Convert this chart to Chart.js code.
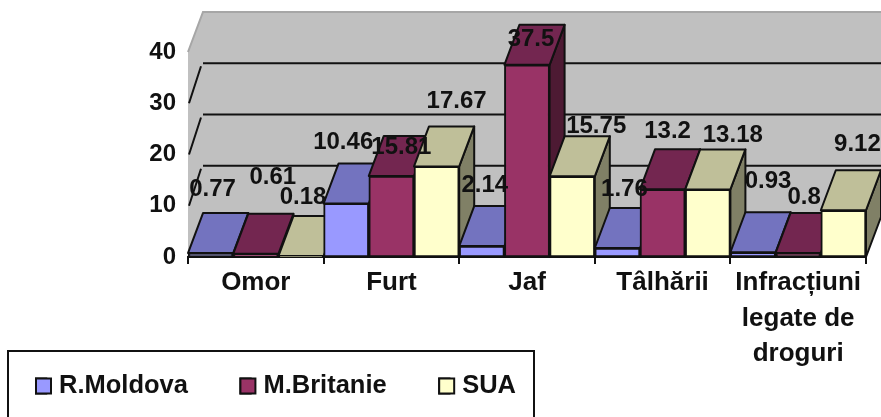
<!DOCTYPE html>
<html>
<head>
<meta charset="utf-8">
<title>Infractiuni</title>
<script src="https://cdn.jsdelivr.net/npm/chart.js@4"></script>
<style>
    body { margin: 0; background: #fff; }
    canvas { display: block; }
</style>
</head>
<body>
<canvas id="chart" width="881" height="417"></canvas>
<script>
const categories = ['Omor', 'Furt', 'Jaf', 'Tâlhării', ['Infracțiuni', 'legate de', 'droguri']];
const moldova  = [0.77, 10.46, 2.14, 1.76, 0.93];
const britanie = [0.61, 15.81, 37.5, 13.2, 0.8];
const sua      = [0.18, 17.67, 15.75, 13.18, 9.12];

// the labels were moved by hand in the original, so each has its own offset from the bar top
const labelShift = [
    [[2, -64], [-3, -61], [3, -61], [7, -59], [15, -71]],
    [[17, -76], [10, -29], [4, -25], [5, -58], [6, -56]],
    [[2, -59], [20, -65], [24, -50], [25, -54], [14, -66]],
];

const DEPTH_X = 15;
const DEPTH_Y = -40;
const TOP_COLORS  = ['#7373bf', '#732650', '#bfbf99'];
const SIDE_COLORS = ['#4d4d80', '#4d1a33', '#808066'];
const LEGEND_PAD = 52.5;
const LEGEND_Y = 386;

function poly(ctx, pts, fill, stroke, width) {
    ctx.beginPath();
    pts.forEach((p, i) => i ? ctx.lineTo(p[0], p[1]) : ctx.moveTo(p[0], p[1]));
    ctx.closePath();
    ctx.fillStyle = fill;
    ctx.fill();
    if (stroke) {
        ctx.strokeStyle = stroke;
        ctx.lineWidth = width;
        ctx.lineJoin = 'round';
        ctx.stroke();
    }
}

const walls = {
    id: 'walls',
    afterLayout(chart) {
        // legend row is placed by hand; x labels must not be cut at the scale bottom
        chart.legend.left = 36 - LEGEND_PAD;
        chart.legend.top = LEGEND_Y - LEGEND_PAD - 12.75;
        chart.scales.x.bottom = chart.height;
    },
    beforeDraw(chart) {
        const ctx = chart.ctx;
        const a = chart.chartArea;
        const yTop = a.top, yBase = a.bottom;
        const backRight = chart.width;
        ctx.save();
        // left wall, back wall and floor
        poly(ctx, [[a.left, yTop], [a.left + DEPTH_X, yTop + DEPTH_Y], [backRight, yTop + DEPTH_Y],
                   [backRight, yBase + DEPTH_Y], [a.right, yBase], [a.left, yBase]], '#c0c0c0');
        ctx.strokeStyle = '#a6a6a6';
        ctx.lineWidth = 2;
        ctx.beginPath();
        ctx.moveTo(a.left, yTop);
        ctx.lineTo(a.left + DEPTH_X, yTop + DEPTH_Y);
        ctx.lineTo(backRight, yTop + DEPTH_Y);
        ctx.stroke();
        // gridlines, sitting on the back wall
        ctx.strokeStyle = '#111';
        ctx.lineWidth = 2;
        chart.scales.y.ticks.forEach(t => {
            if (t.value === 0 || t.value === 40) return;
            const y = chart.scales.y.getPixelForValue(t.value);
            ctx.beginPath();
            ctx.moveTo(a.left + 1, y);
            ctx.lineTo(a.left + DEPTH_X - 2, y + DEPTH_Y + 3);
            ctx.moveTo(a.left + DEPTH_X, y + DEPTH_Y);
            ctx.lineTo(backRight, y + DEPTH_Y);
            ctx.stroke();
        });
        ctx.restore();
    },
    beforeDatasetDraw() {
        return false;
    },
    afterDatasetsDraw(chart) {
        const ctx = chart.ctx;
        ctx.save();
        // painter's order: category by category, left to right
        categories.forEach((c, i) => {
            chart.data.datasets.forEach((ds, d) => {
                const bar = chart.getDatasetMeta(d).data[i];
                const l = bar.x - bar.width / 2, r = bar.x + bar.width / 2;
                const top = bar.y, base = bar.base;
                poly(ctx, [[r, top], [r + DEPTH_X, top + DEPTH_Y], [r + DEPTH_X, base + DEPTH_Y], [r, base]],
                    SIDE_COLORS[d], '#111', 2);
                poly(ctx, [[l, top], [l + DEPTH_X, top + DEPTH_Y], [r + DEPTH_X, top + DEPTH_Y], [r, top]],
                    TOP_COLORS[d], '#111', 2);
                bar.draw(ctx);
            });
        });
        // value labels on top of everything
        ctx.font = 'bold 24px "Liberation Sans", Arial, sans-serif';
        ctx.fillStyle = '#111';
        ctx.textAlign = 'center';
        ctx.textBaseline = 'middle';
        chart.data.datasets.forEach((ds, d) => {
            chart.getDatasetMeta(d).data.forEach((bar, i) => {
                const s = labelShift[d][i];
                ctx.fillText(String(ds.data[i]), bar.x + s[0], bar.y + s[1]);
            });
        });
        ctx.restore();
    },
    afterDraw(chart) {
        const ctx = chart.ctx;
        ctx.save();
        // frame round the legend, open at the bottom edge of the picture
        ctx.strokeStyle = '#111';
        ctx.lineWidth = 2;
        ctx.beginPath();
        ctx.moveTo(8, 417);
        ctx.lineTo(8, 351);
        ctx.lineTo(534, 351);
        ctx.lineTo(534, 417);
        ctx.stroke();
        // legend swatches are wider than the library's text offset allows
        chart.legend.legendItems.forEach((item, i) => {
            const x = chart.legend.legendHitBoxes[i].left;
            ctx.fillStyle = item.fillStyle;
            ctx.fillRect(x, LEGEND_Y - 7.5, 15, 15);
            ctx.strokeRect(x, LEGEND_Y - 7.5, 15, 15);
        });
        ctx.restore();
    }
};

function series(label, data, color) {
    return {
        label: label,
        data: data,
        backgroundColor: color,
        borderColor: '#111',
        borderWidth: 2,
        borderSkipped: false,
        barPercentage: 1,
        categoryPercentage: 1,
    };
}

new Chart(document.getElementById('chart'), {
    type: 'bar',
    data: {
        labels: categories,
        datasets: [
            series('R.Moldova', moldova, '#9999ff'),
            series('M.Britanie', britanie, '#993366'),
            series('SUA', sua, '#ffffcc'),
        ]
    },
    options: {
        responsive: false,
        animation: false,
        layout: { padding: { top: 52, right: 15 } },
        plugins: {
            tooltip: { enabled: false },
            legend: {
                position: 'bottom',
                align: 'start',
                maxHeight: 70,
                labels: {
                    font: { family: '"Liberation Sans"', size: 25.5, weight: 'bold' },
                    color: '#111',
                    boxWidth: 10.25,
                    boxHeight: 15,
                    padding: LEGEND_PAD,
                }
            }
        },
        scales: {
            x: {
                afterFit: (s) => { s.height = 90; },
                grid: { drawOnChartArea: false, color: '#111', lineWidth: 2, tickLength: 7 },
                border: { color: '#111', width: 2 },
                ticks: {
                    color: '#111',
                    font: { family: '"Liberation Sans"', size: 26, weight: 'bold', lineHeight: 1.37 },
                    padding: 1,
                    maxRotation: 0,
                    autoSkip: false,
                }
            },
            y: {
                min: 0,
                max: 40,
                afterFit: (s) => { s.width = 188; },
                grid: { display: false },
                border: { display: false },
                ticks: {
                    stepSize: 10,
                    color: '#111',
                    padding: 4,
                    font: { family: '"Liberation Sans"', size: 24, weight: 'bold' },
                }
            }
        }
    },
    plugins: [walls]
});
</script>
</body>
</html>
